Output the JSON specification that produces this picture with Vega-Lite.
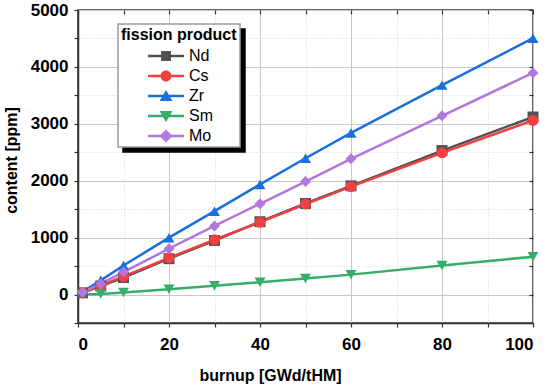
{
  "$schema": "https://vega.github.io/schema/vega-lite/v6.json",
  "width": 455,
  "height": 313,
  "autosize": {"type": "none"},
  "padding": {"left": 78, "top": 10, "right": 17, "bottom": 63},
  "config": {"view": {"stroke": "#333333", "strokeWidth": 1.5}, "font": "Liberation Sans", "legend": {"strokeWidth": 1.5}},
  "data": {"values": [
    {"b": 1, "c": 30, "p": "Nd"}, {"b": 5, "c": 150, "p": "Nd"}, {"b": 10, "c": 300, "p": "Nd"}, {"b": 20, "c": 630, "p": "Nd"}, {"b": 30, "c": 950, "p": "Nd"}, {"b": 40, "c": 1280, "p": "Nd"}, {"b": 50, "c": 1600, "p": "Nd"}, {"b": 60, "c": 1910, "p": "Nd"}, {"b": 80, "c": 2530, "p": "Nd"}, {"b": 100, "c": 3120, "p": "Nd"},
    {"b": 1, "c": 30, "p": "Cs"}, {"b": 5, "c": 160, "p": "Cs"}, {"b": 10, "c": 320, "p": "Cs"}, {"b": 20, "c": 645, "p": "Cs"}, {"b": 30, "c": 965, "p": "Cs"}, {"b": 40, "c": 1270, "p": "Cs"}, {"b": 50, "c": 1590, "p": "Cs"}, {"b": 60, "c": 1895, "p": "Cs"}, {"b": 80, "c": 2490, "p": "Cs"}, {"b": 100, "c": 3060, "p": "Cs"},
    {"b": 1, "c": 50, "p": "Zr"}, {"b": 5, "c": 250, "p": "Zr"}, {"b": 10, "c": 510, "p": "Zr"}, {"b": 20, "c": 1000, "p": "Zr"}, {"b": 30, "c": 1465, "p": "Zr"}, {"b": 40, "c": 1935, "p": "Zr"}, {"b": 50, "c": 2395, "p": "Zr"}, {"b": 60, "c": 2840, "p": "Zr"}, {"b": 80, "c": 3680, "p": "Zr"}, {"b": 100, "c": 4505, "p": "Zr"},
    {"b": 1, "c": 0, "p": "Sm"}, {"b": 5, "c": 10, "p": "Sm"}, {"b": 10, "c": 35, "p": "Sm"}, {"b": 20, "c": 95, "p": "Sm"}, {"b": 30, "c": 155, "p": "Sm"}, {"b": 40, "c": 215, "p": "Sm"}, {"b": 50, "c": 280, "p": "Sm"}, {"b": 60, "c": 350, "p": "Sm"}, {"b": 80, "c": 510, "p": "Sm"}, {"b": 100, "c": 665, "p": "Sm"},
    {"b": 1, "c": 40, "p": "Mo"}, {"b": 5, "c": 190, "p": "Mo"}, {"b": 10, "c": 395, "p": "Mo"}, {"b": 20, "c": 805, "p": "Mo"}, {"b": 30, "c": 1205, "p": "Mo"}, {"b": 40, "c": 1595, "p": "Mo"}, {"b": 50, "c": 1985, "p": "Mo"}, {"b": 60, "c": 2385, "p": "Mo"}, {"b": 80, "c": 3140, "p": "Mo"}, {"b": 100, "c": 3895, "p": "Mo"}
  ]},
  "resolve": {
    "scale": {"color": "independent", "shape": "independent"},
    "axis": {"x": "independent", "y": "independent"}
  },
  "layer": [
    {
      "mark": {"type": "line", "strokeWidth": 2.5},
      "encoding": {
        "x": {"field": "b", "type": "quantitative",
          "scale": {"domain": [0, 100], "nice": false},
          "axis": {
            "orient": "bottom",
            "values": [0, 10, 20, 30, 40, 50, 60, 70, 80, 90, 100],
            "labelExpr": "datum.value % 20 === 0 ? datum.label : ''",
            "labelOverlap": false,
            "labelFont": "Liberation Sans", "labelFontSize": 17, "labelFontWeight": "bold", "labelColor": "#000000",
            "labelPadding": 9,
            "tickColor": "#333333",
            "tickSize": 4,
            "tickWidth": 1.2,
            "domainColor": "#333333", "domainWidth": 1.5,
            "grid": true,
            "gridColor": "#c8c8c8",
            "gridOpacity": {"condition": {"test": "datum.value % 20 === 0", "value": 1}, "value": 0},
            "gridWidth": 1,
            "title": "burnup [GWd/tHM]",
            "titleFont": "Liberation Sans", "titleFontSize": 16, "titleFontWeight": "bold", "titleColor": "#000000",
            "titleX": 192, "titleY": 57, "titleAlign": "center", "titleBaseline": "alphabetic"
          }
        },
        "y": {"field": "c", "type": "quantitative",
          "scale": {"domain": [-500, 5000], "nice": false, "zero": false},
          "axis": {
            "orient": "left",
            "values": [-500, 0, 500, 1000, 1500, 2000, 2500, 3000, 3500, 4000, 4500, 5000],
            "labelExpr": "datum.value % 1000 === 0 ? datum.label : ''",
            "labelOverlap": false,
            "format": "d",
            "labelFont": "Liberation Sans", "labelFontSize": 17, "labelFontWeight": "bold", "labelColor": "#000000",
            "labelPadding": 6,
            "tickColor": "#333333",
            "tickSize": 4,
            "tickWidth": 1.2,
            "domainColor": "#333333", "domainWidth": 1.5,
            "grid": true,
            "gridColor": "#c8c8c8",
            "gridOpacity": {"condition": {"test": "datum.value % 1000 === 0", "value": 1}, "value": 0},
            "gridWidth": 1,
            "title": "content [ppm]",
            "titleFont": "Liberation Sans", "titleFontSize": 16, "titleFontWeight": "bold", "titleColor": "#000000",
            "titleAngle": -90, "titleX": -62, "titleY": 150, "titleAlign": "center", "titleBaseline": "alphabetic"
          }
        },
        "color": {"field": "p", "type": "nominal",
          "sort": ["Nd", "Cs", "Zr", "Sm", "Mo"],
          "scale": {"range": ["#515151", "#F14040", "#1A6FDF", "#37AD6B", "#B177DE"]},
          "legend": {
            "title": null, "orient": "none", "legendX": 45, "legendY": 19,
            "padding": 13.5, "strokeColor": "#000000", "fillColor": "#000000",
            "labelExpr": "''", "labelFontSize": 1,
            "symbolType": "square", "symbolSize": 256, "symbolOffset": 78.6, "labelOffset": 0, "rowPadding": 4,
            "symbolOpacity": 0, "symbolStrokeWidth": 0
          }
        }
      }
    },
    {
      "mark": {"type": "point", "filled": true, "opacity": 1, "size": 120},
      "encoding": {
        "x": {"field": "b", "type": "quantitative",
          "axis": {
            "orient": "top", "values": [0, 10, 20, 30, 40, 50, 60, 70, 80, 90, 100],
            "labels": false, "domain": false, "title": null,
            "grid": true, "gridColor": "#d6d6d6", "gridDash": [1, 2], "gridWidth": 1,
            "gridOpacity": {"condition": {"test": "datum.value % 20 === 0", "value": 0}, "value": 1},
            "tickColor": "#333333", "tickWidth": 1.2, "tickSize": -4
          }
        },
        "y": {"field": "c", "type": "quantitative",
          "axis": {
            "orient": "right", "values": [-500, 0, 500, 1000, 1500, 2000, 2500, 3000, 3500, 4000, 4500, 5000],
            "labels": false, "domain": false, "title": null,
            "grid": true, "gridColor": "#d6d6d6", "gridDash": [1, 2], "gridWidth": 1,
            "gridOpacity": {"condition": {"test": "datum.value % 1000 === 0", "value": 0}, "value": 1},
            "tickColor": "#333333", "tickWidth": 1.2, "tickSize": -4
          }
        },
        "color": {"field": "p", "type": "nominal",
          "scale": {"domain": ["Nd", "Cs", "Zr", "Sm", "Mo"], "range": ["#515151", "#F14040", "#1A6FDF", "#37AD6B", "#B177DE"]},
          "legend": null},
        "shape": {"field": "p", "type": "nominal",
          "scale": {"domain": ["Nd", "Cs", "Zr", "Sm", "Mo"], "range": ["square", "circle", "triangle-up", "triangle-down", "diamond"]},
          "legend": null}
      }
    },
    {
      "mark": {"type": "point", "filled": true, "opacity": 0},
      "encoding": {
        "x": {"field": "b", "type": "quantitative", "axis": null},
        "y": {"field": "c", "type": "quantitative", "axis": null},
        "color": {"field": "p", "type": "nominal",
          "scale": {"domain": ["Nd", "Cs", "Zr", "Sm", "Mo"], "range": ["#515151", "#F14040", "#1A6FDF", "#37AD6B", "#B177DE"]},
          "legend": {
            "title": "fission product", "orient": "none", "legendX": 40, "legendY": 14,
            "padding": 3, "strokeColor": "#9a9a9a", "fillColor": "#ffffff",
            "titleFont": "Liberation Sans", "titleFontSize": 16, "titleFontWeight": "bold", "titleColor": "#000000", "titlePadding": 5,
            "labelFont": "Liberation Sans", "labelFontSize": 16, "labelColor": "#000000",
            "symbolSize": 144, "symbolOffset": 37, "labelOffset": 15, "rowPadding": 4,
            "symbolOpacity": 1, "symbolStrokeWidth": 0
          }
        },
        "shape": {"field": "p", "type": "nominal",
          "scale": {"domain": ["Nd", "Cs", "Zr", "Sm", "Mo"], "range": [
            "M-3,-0.21H3V0.21H-3ZM-0.83,-0.83H0.83V0.83H-0.83Z",
            "M-3,-0.21H3V0.21H-3ZM-0.92,0A0.92,0.92,0,1,1,0.92,0A0.92,0.92,0,1,1,-0.92,0Z",
            "M-3,-0.21H3V0.21H-3ZM0,-1L1.08,0.85L-1.08,0.85Z",
            "M-3,-0.21H3V0.21H-3ZM0,1L-1.08,-0.85L1.08,-0.85Z",
            "M-3,-0.21H3V0.21H-3ZM0,-1.08L1.08,0L0,1.08L-1.08,0Z"
          ]},
          "legend": {
            "title": "fission product", "orient": "none", "legendX": 40, "legendY": 14,
            "padding": 3, "strokeColor": "#9a9a9a", "fillColor": "#ffffff",
            "titleFont": "Liberation Sans", "titleFontSize": 16, "titleFontWeight": "bold", "titleColor": "#000000", "titlePadding": 5,
            "labelFont": "Liberation Sans", "labelFontSize": 16, "labelColor": "#000000",
            "symbolSize": 144, "symbolOffset": 37, "labelOffset": 15, "rowPadding": 4,
            "symbolOpacity": 1, "symbolStrokeWidth": 0
          }
        }
      }
    }
  ]
}
